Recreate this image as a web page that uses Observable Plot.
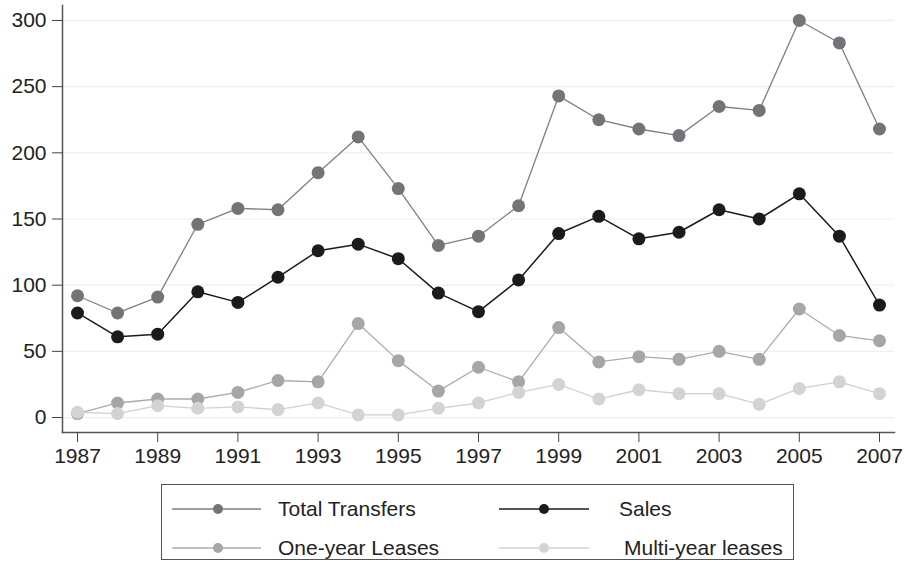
<!DOCTYPE html>
<html>
<head>
<meta charset="utf-8">
<script src="https://cdn.jsdelivr.net/npm/d3@7"></script>
<script src="https://cdn.jsdelivr.net/npm/@observablehq/plot@0.6"></script>
<style>
  html, body { margin: 0; padding: 0; background: #fff; }
  #wrap { position: relative; width: 905px; height: 562px; font-family: "Liberation Sans", Arial, Helvetica, sans-serif; }
  #legend { position: absolute; left: 161px; top: 484px; width: 633px; height: 76px; border: 1px solid #555; box-sizing: border-box; }
</style>
</head>
<body>
<div id="wrap">
  <div id="chart"></div>
  <div id="legend"></div>
</div>
<script>
const years = d3.range(1987, 2008);
const totalTransfers = [92, 79, 91, 146, 158, 157, 185, 212, 173, 130, 137, 160, 243, 225, 218, 213, 235, 232, 300, 283, 218];
const sales = [79, 61, 63, 95, 87, 106, 126, 131, 120, 94, 80, 104, 139, 152, 135, 140, 157, 150, 169, 137, 85];
const oneYearLeases = [3, 11, 14, 14, 19, 28, 27, 71, 43, 20, 38, 27, 68, 42, 46, 44, 50, 44, 82, 62, 58];
const multiYearLeases = [4, 3, 9, 7, 8, 6, 11, 2, 2, 7, 11, 19, 25, 14, 21, 18, 18, 10, 22, 27, 18];
const xTicks = d3.range(1987, 2008, 2);
const yTicks = [0, 50, 100, 150, 200, 250, 300];

const series = [
  {name: "Total Transfers", values: totalTransfers, dot: "#747478", line: "#7f7f82", sw: 1.3},
  {name: "Sales", values: sales, dot: "#1c1a1b", line: "#1c1a1b", sw: 1.5},
  {name: "One-year Leases", values: oneYearLeases, dot: "#a6a6a9", line: "#ababad", sw: 1.3},
  {name: "Multi-year leases", values: multiYearLeases, dot: "#d3d3d5", line: "#d0d0d2", sw: 1.3}
];

const marks = [
  Plot.ruleY(yTicks, {stroke: "#efefef", strokeWidth: 1.2}),
  Plot.frame({anchor: "left", stroke: "#555", strokeWidth: 1.5}),
  Plot.frame({anchor: "bottom", stroke: "#555", strokeWidth: 1.5}),
  Plot.axisX({ticks: xTicks, tickFormat: d => String(d), tickSize: 10, tickPadding: 6, fontSize: 21, stroke: "#444", color: "#222", label: null}),
  Plot.axisY({ticks: yTicks, tickSize: 10, tickPadding: 6, fontSize: 21, stroke: "#444", color: "#222", label: null})
];
for (const s of series) {
  const data = years.map((y, i) => ({year: y, value: s.values[i]}));
  marks.push(Plot.line(data, {x: "year", y: "value", stroke: s.line, strokeWidth: s.sw}));
  marks.push(Plot.dot(data, {x: "year", y: "value", r: 6.5, fill: s.dot, stroke: "none"}));
}

const chart = Plot.plot({
  width: 905,
  height: 476,
  marginLeft: 62,
  marginRight: 11,
  marginTop: 5,
  marginBottom: 44,
  style: {fontFamily: "'Liberation Sans', Arial, Helvetica, sans-serif", background: "#fff", color: "#222"},
  x: {domain: [1987, 2007], insetLeft: 15, insetRight: 15, label: null},
  y: {domain: [-11.3, 311.3], label: null},
  marks
});
document.getElementById("chart").appendChild(chart);

// legend
const legendPos = [
  {lx1: 10, lx2: 99, mx: 56, tx: 116, ty: 24},
  {lx1: 337, lx2: 427, mx: 382, tx: 457, ty: 24},
  {lx1: 10, lx2: 99, mx: 56, tx: 116, ty: 63},
  {lx1: 337, lx2: 427, mx: 382, tx: 462, ty: 63}
];
const lsvg = d3.select("#legend").append("svg").attr("width", 631).attr("height", 74)
  .style("font-family", "'Liberation Sans', Arial, Helvetica, sans-serif");
series.forEach((s, i) => {
  const p = legendPos[i];
  const g = lsvg.append("g");
  g.append("line").attr("x1", p.lx1).attr("x2", p.lx2).attr("y1", p.ty).attr("y2", p.ty)
    .attr("stroke", s.line).attr("stroke-width", s.sw);
  g.append("circle").attr("cx", p.mx).attr("cy", p.ty).attr("r", 5).attr("fill", s.dot);
  g.append("text").attr("x", p.tx).attr("y", p.ty).attr("dy", "0.35em")
    .attr("font-size", 21).attr("fill", "#222").text(s.name);
});
</script>
</body>
</html>
